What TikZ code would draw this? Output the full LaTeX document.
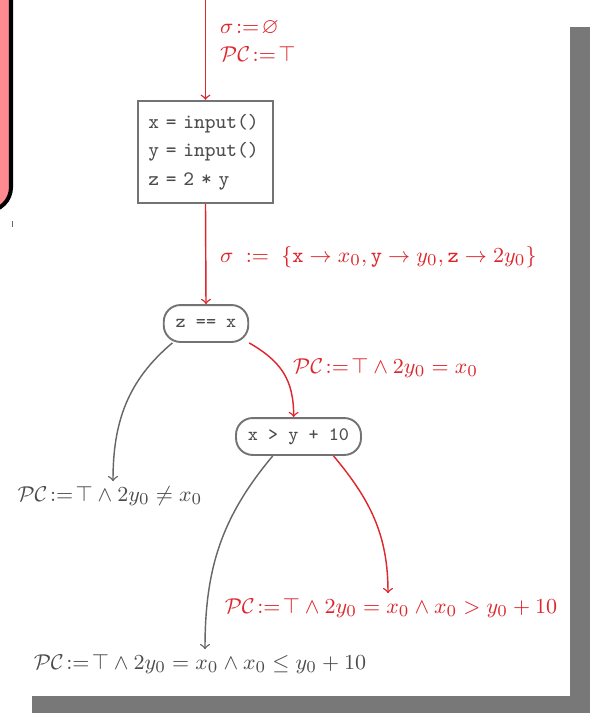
\documentclass[tikz,border=0pt]{standalone}
\usepackage{amsmath,amssymb}
\definecolor{pinkbox}{RGB}{255,138,144}
\definecolor{symred}{RGB}{222,38,44}
\begin{document}
\begin{tikzpicture}[x = .42pt, y = -.42pt,
	redarr/.style = {->, symred, semithick},
	grayarr/.style = {->, black!60, semithick},
	cond/.style = {draw = black!55, thick, rounded corners = 7pt, minimum height = 15.5pt, inner xsep = 5pt, text = black!70, font = \footnotesize\ttfamily},
	redlbl/.style = {text = symred, inner sep = 2pt, font = \fontsize{9.3}{11.5}\selectfont},
	graylbl/.style = {text = black!70, inner sep = 2pt, font = \fontsize{9.3}{11.5}\selectfont}]
	\useasboundingbox (0, 0) rectangle (590, 713);
	\fill[white] (0, 0) rectangle (590, 713);
	\fill[black!53] (32, 27) rectangle (600, 720);
	\fill[white] (-10, -10) rectangle (570, 696);
	\draw[line width = 1.7pt, fill = pinkbox, rounded corners = 10pt] (-40, -40) rectangle (11, 211);
	\draw[black!60, thin] (12, 221)--(12, 227);
	\coordinate (top) at (205.5, 0);
	\node[draw = black!55, thick, text width = 48pt, minimum height = 43pt, inner xsep = 4.2pt, align = left, text = black!70, font = \fontsize{8.6}{12}\selectfont\ttfamily] (init) at (205.5, 152) {x = input()\\y = input()\\z = 2 * y};
	\node[cond] (zx) at (206, 323.5) {z == x};
	\node[cond] (xy) at (298.5, 436.5) {x > y + 10};
	\node[redlbl, anchor = west, align = left] (lstart) at (215, 41) {$\sigma\!:=\!\varnothing$\\[0pt]$\mathcal{PC}\!:=\!\top$};
	\node[redlbl, anchor = west] (lsigma) at (215, 257) {$\sigma \;:=\; \{\mathtt{x} \to x_0, \mathtt{y} \to y_0, \mathtt{z} \to 2y_0\}$};
	\node[redlbl, anchor = west] (ltrue) at (288, 368) {$\mathcal{PC}\!:=\!\top \land 2y_0 = x_0$};
	\node[graylbl] (lfalse) at (110, 496) {$\mathcal{PC}\!:=\!\top \land 2y_0 \neq x_0$};
	\node[redlbl] (lgt) at (391, 608) {$\mathcal{PC}\!:=\!\top \land 2y_0 = x_0 \land x_0 > y_0 + 10$};
	\node[graylbl] (lle) at (200, 664) {$\mathcal{PC}\!:=\!\top \land 2y_0 = x_0 \land x_0 \leq y_0 + 10$};
	\draw[redarr] (top)--(init.north);
	\draw[redarr] (init.south)--(zx.north);
	\draw[grayarr] (zx.-150) to[out = -140, in = 90] ([xshift = 3*.42pt]lfalse.north);
	\draw[redarr] (zx.south east) to[out = -30, in = 90, looseness = 1.1] (xy.104);
	\draw[grayarr] (xy.-143) to[out = -130, in = 90] ([xshift = 5*.42pt]lle.north);
	\draw[redarr] (xy.-29) to[out = -50, in = 90] ([xshift = -3*.42pt]lgt.north);
\end{tikzpicture}
\end{document}
